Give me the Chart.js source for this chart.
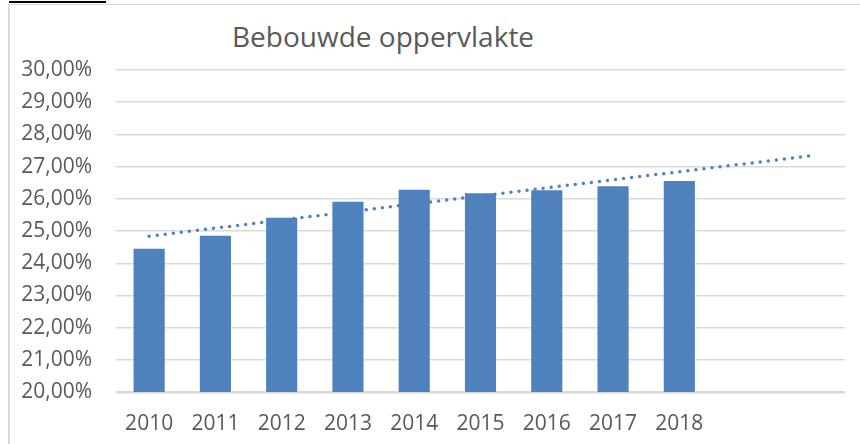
<!DOCTYPE html>
<html>
<head>
<meta charset="utf-8">
<script src="https://cdn.jsdelivr.net/npm/chart.js@4"></script>
<style>
  html, body { margin: 0; padding: 0; background: #fff; }
  #wrap { position: relative; width: 860px; height: 444px; overflow: hidden; }
  #frame { position: absolute; left: 8px; top: 4px; width: 860px; height: 450px;
           border-left: 2px solid #d9d9d9; border-top: 1.5px solid #d9d9d9; box-sizing: border-box; }
  #blackbar { position: absolute; left: 9px; top: 1px; width: 97px; height: 2px; background: #000; }
  #title { position: absolute; left: 232px; top: 20px; font-family: "Open Sans", sans-serif;
           font-size: 28px; color: #595959; line-height: 1.2; white-space: nowrap; }
  canvas { position: absolute; left: 0; top: 0; }
</style>
</head>
<body>
<div id="wrap">
  <div id="frame"></div>
  <div id="blackbar"></div>
  <div id="title">Bebouwde oppervlakte</div>
  <canvas id="c" width="860" height="444"></canvas>
</div>
<script>
const categories = ['2010','2011','2012','2013','2014','2015','2016','2017','2018','',''];
const builtArea = [24.48, 24.88, 25.44, 25.94, 26.31, 26.20, 26.30, 26.42, 26.58, null, null];
const trendValues = [24.84, 25.09, 25.34, 25.59, 25.84, 26.09, 26.34, 26.59, 26.84, 27.09, 27.34];
const yTicks = [20, 21, 22, 23, 24, 25, 26, 27, 28, 29, 30];

const fmt = v => v.toFixed(2).replace('.', ',') + '%';

new Chart(document.getElementById('c'), {
  data: {
    labels: categories,
    datasets: [
      {
        type: 'line',
        data: trendValues,
        borderColor: '#4F81BD',
        borderWidth: 3.5,
        borderDash: [0, 8.1],
        borderCapStyle: 'round',
        pointRadius: 0,
        tension: 0,
        fill: false,
        order: 0
      },
      {
        type: 'bar',
        data: builtArea,
        backgroundColor: '#4F81BD',
        borderColor: 'rgba(255,255,255,0.35)',
        borderWidth: 1,
        categoryPercentage: 1,
        barPercentage: 0.5,
        order: 1
      }
    ]
  },
  options: {
    responsive: false,
    animation: false,
    layout: { padding: { left: 10, right: 15, top: 70, bottom: 0 } },
    plugins: { legend: { display: false }, tooltip: { enabled: false }, title: { display: false } },
    scales: {
      x: {
        grid: { display: false, drawTicks: false },
        border: { display: false },
        ticks: { color: '#595959', font: { family: 'Open Sans', size: 21 }, padding: 19, maxRotation: 0, autoSkip: false },
        afterFit: s => { s.height = 52; }
      },
      y: {
        min: 20, max: 30,
        afterBuildTicks: s => { s.ticks = yTicks.map(v => ({ value: v })); },
        grid: {
          drawTicks: false,
          color: ctx => '#d9d9d9',
          lineWidth: ctx => (ctx.tick && ctx.tick.value === 20 ? 2.5 : 1.4)
        },
        border: { display: false },
        ticks: { color: '#595959', font: { family: 'Open Sans', size: 21 }, padding: 24, callback: v => fmt(v) },
        afterFit: s => { s.width = 106; }
      }
    }
  }
});
</script>
</body>
</html>
